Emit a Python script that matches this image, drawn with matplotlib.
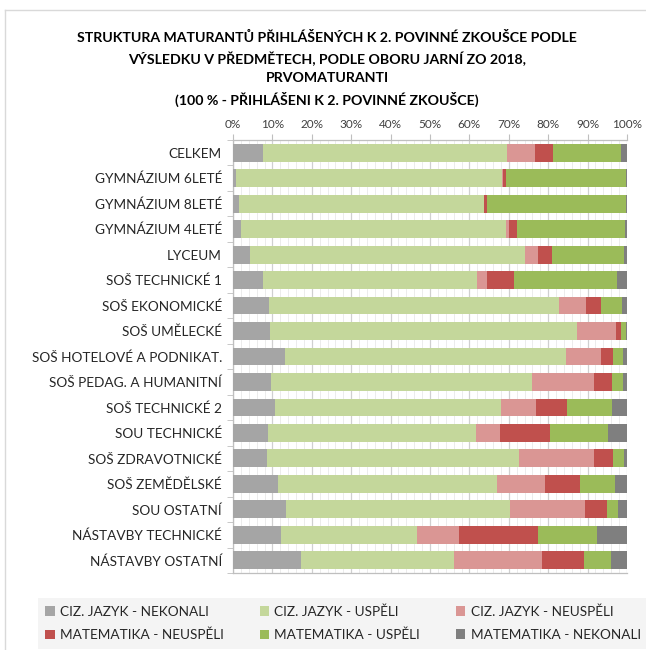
import matplotlib
matplotlib.use("Agg")
import matplotlib.pyplot as plt
from matplotlib.lines import Line2D
from matplotlib.ticker import MultipleLocator, PercentFormatter
import numpy as np

plt.rcParams['font.family'] = ['Lato', 'DejaVu Sans']

categories = [
    "CELKEM", "GYMNÁZIUM 6LETÉ", "GYMNÁZIUM 8LETÉ", "GYMNÁZIUM 4LETÉ", "LYCEUM",
    "SOŠ TECHNICKÉ 1", "SOŠ EKONOMICKÉ", "SOŠ UMĚLECKÉ", "SOŠ HOTELOVÉ A PODNIKAT.",
    "SOŠ PEDAG. A HUMANITNÍ", "SOŠ TECHNICKÉ 2", "SOU TECHNICKÉ", "SOŠ ZDRAVOTNICKÉ",
    "SOŠ ZEMĚDĚLSKÉ", "SOU OSTATNÍ", "NÁSTAVBY TECHNICKÉ", "NÁSTAVBY OSTATNÍ",
]

ciz_nekonali = [7.5, 0.8, 1.6, 2.0, 4.2, 7.5, 9.2, 9.5, 13.2, 9.7, 10.7, 8.9, 8.7, 11.5, 13.5, 12.2, 17.2]
ciz_uspeli = [62.0, 67.6, 62.0, 67.3, 70.0, 54.4, 73.5, 77.7, 71.4, 66.2, 57.4, 52.7, 63.8, 55.6, 56.7, 34.4, 39.0]
ciz_neuspeli = [7.1, 0.1, 0.2, 0.8, 3.3, 2.6, 7.0, 10.0, 8.7, 15.8, 8.7, 6.1, 19.2, 12.2, 19.1, 10.8, 22.3]
mat_neuspeli = [4.7, 0.8, 0.7, 1.9, 3.4, 6.7, 3.7, 1.2, 3.1, 4.4, 8.0, 12.8, 4.7, 8.8, 5.6, 20.0, 10.5]
mat_uspeli = [17.2, 30.5, 35.3, 27.5, 18.4, 26.3, 5.3, 1.3, 2.6, 3.0, 11.5, 14.7, 2.8, 8.8, 2.8, 15.0, 6.9]
mat_nekonali = [1.5, 0.2, 0.2, 0.5, 0.7, 2.5, 1.3, 0.3, 1.0, 0.9, 3.7, 4.8, 0.8, 3.1, 2.3, 7.6, 4.1]

series_names = [
    "CIZ. JAZYK - NEKONALI", "CIZ. JAZYK - USPĚLI", "CIZ. JAZYK - NEUSPĚLI",
    "MATEMATIKA - NEUSPĚLI", "MATEMATIKA - USPĚLI", "MATEMATIKA - NEKONALI",
]
series = [ciz_nekonali, ciz_uspeli, ciz_neuspeli, mat_neuspeli, mat_uspeli, mat_nekonali]
colors = ["#a5a5a5", "#c4d79b", "#da9694", "#c0504d", "#9bbb59", "#7f7f7f"]

title = ("STRUKTURA MATURANTŮ PŘIHLÁŠENÝCH K 2. POVINNÉ ZKOUŠCE PODLE\n"
         "VÝSLEDKU V PŘEDMĚTECH, PODLE OBORU JARNÍ ZO 2018,\n"
         "PRVOMATURANTI\n"
         "(100 % - PŘIHLÁŠENI K 2. POVINNÉ ZKOUŠCE)")

W, H = 646, 650
fig = plt.figure(figsize=(W / 100, H / 100), dpi=100)
fig.patch.set_facecolor("white")

ax = fig.add_axes([233 / W, 1 - 573 / H, (627 - 233) / W, (573 - 140) / H])

# normalize to 100
data = np.array(series, dtype=float)
data = data / data.sum(axis=0) * 100
y = np.arange(len(categories))
left = np.zeros(len(categories))
handles = []
for vals, name, c in zip(data, series_names, colors):
    b = ax.barh(y, vals, left=left, height=0.7, color=c, label=name, zorder=3)
    handles.append(b)
    left += vals

ax.set_xlim(0, 100)
ax.set_ylim(len(categories) - 0.5, -0.5)
ax.xaxis.set_major_locator(MultipleLocator(10))
ax.xaxis.set_minor_locator(MultipleLocator(2))
ax.xaxis.set_major_formatter(PercentFormatter(decimals=0))
ax.xaxis.tick_top()
ax.tick_params(axis='x', which='major', length=4, color='#bfbfbf', labelsize=8.5,
               labelcolor='#404040', pad=3)
ax.tick_params(axis='x', which='minor', length=0)
ax.grid(axis='x', which='major', color='#d0d0d0', linewidth=0.9, zorder=0)
ax.grid(axis='x', which='minor', color='#ececec', linewidth=0.7, zorder=0)

ax.set_yticks(y)
ax.set_yticklabels(categories)
ax.set_yticks(np.arange(-0.5, len(categories), 1), minor=True)
ax.tick_params(axis='y', which='major', length=0, labelsize=9.8, labelcolor='#262626', pad=8)
ax.tick_params(axis='y', which='minor', length=4, color='#bfbfbf')

for s in ['top', 'left', 'bottom']:
    ax.spines[s].set_color('#bfbfbf')
    ax.spines[s].set_linewidth(0.9)
ax.spines['right'].set_visible(False)

fig.text(327 / W, 1 - 31 / H, title, ha='center', va='top', fontsize=10.2,
         fontweight='bold', color='#000000', linespacing=1.6)

order = [0, 3, 1, 4, 2, 5]
leg = fig.legend([handles[i] for i in order], [series_names[i] for i in order],
                 ncol=3, loc='upper left',
                 bbox_to_anchor=(31 / W, 1 - 591 / H), frameon=True,
                 fontsize=9.8, handlelength=0.7, handleheight=0.7, handletextpad=0.4,
                 columnspacing=2.6, labelspacing=0.8, borderpad=0.55)
leg.get_frame().set_facecolor('#f2f2f2')
leg.get_frame().set_edgecolor('none')
leg.get_frame().set_boxstyle('square', pad=0)
for t in leg.get_texts():
    t.set_color('#262626')

# chart area border
fig.add_artist(Line2D([5 / W, 5 / W], [1 - 10 / H, 0], color='#d9d9d9', linewidth=1,
                      transform=fig.transFigure))
fig.add_artist(Line2D([5 / W, 1], [1 - 10 / H, 1 - 10 / H], color='#d9d9d9', linewidth=1,
                      transform=fig.transFigure))

fig.savefig("out.png", dpi=100)
